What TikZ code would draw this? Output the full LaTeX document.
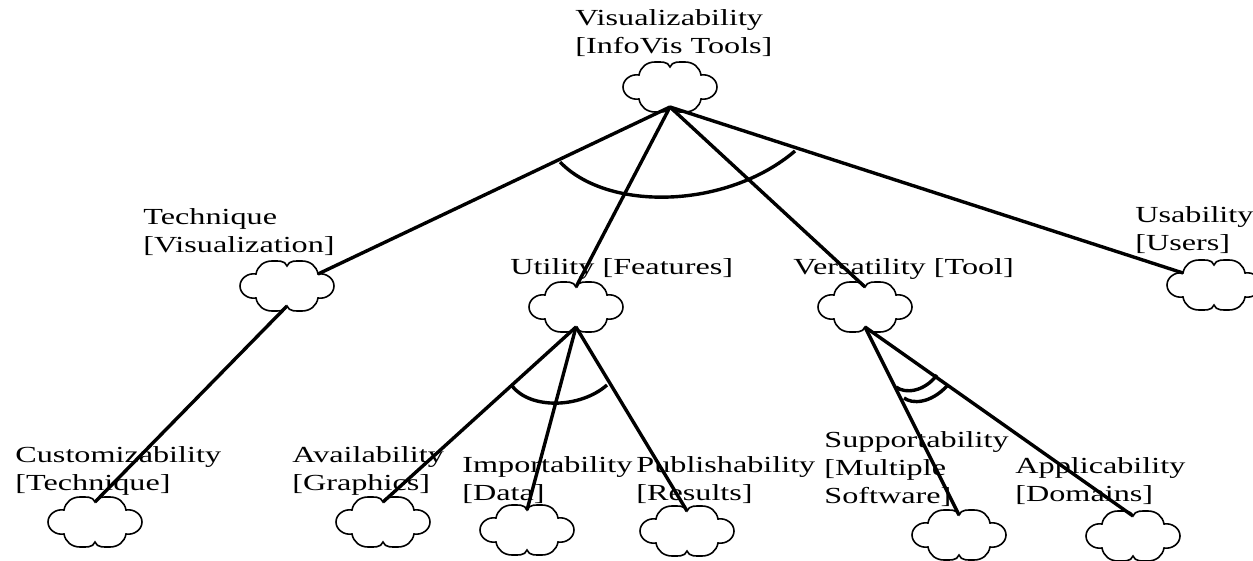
\documentclass[tikz,border=0pt]{standalone}
\usepackage{fontspec}
\setmainfont{Liberation Serif}[FakeStretch=1.40]
\usetikzlibrary{calc}

\tikzset{
  softgoal/.pic={
    \begin{scope}[x=0.5pt, y=0.5pt]
      \draw[goal line] (0,20) to[out=70,in=180] (15,25) to[out=0,in=100] (31,12)
        to[out=10,in=90] (47,0) to[out=-90,in=-10] (31,-12)
        to[out=-100,in=0] (15,-25) to[out=180,in=-70] (0,-20)
        to[out=-110,in=0] (-15,-25) to[out=180,in=-80] (-31,-12)
        to[out=-170,in=-90] (-47,0) to[out=90,in=170] (-31,12)
        to[out=80,in=180] (-15,25) to[out=0,in=110] (0,20) -- cycle;
      \coordinate (-top) at (0,20);
      \coordinate (-bot) at (0,-20);
      \coordinate (-ne) at (31,12);
      \coordinate (-nw) at (-31,12);
    \end{scope}
  }
}

\begin{document}
\begin{tikzpicture}[x=0.5pt, y=-0.5pt,
    goal line/.style={line width=0.8pt},
    link/.style={line width=1.7pt},
    lbl/.style={anchor=base west, inner sep=0pt, align=left,
      font=\fontsize{11.5}{14}\selectfont}]

    \useasboundingbox (0,0) rectangle (1253,561);

    % softgoals
    \pic (vis)   at (670,87)  {softgoal};
    \pic (tech)  at (287,286) {softgoal};
    \pic (util)  at (576,307) {softgoal};
    \pic (vers)  at (865,307) {softgoal};
    \pic (usab)  at (1214,285) {softgoal};
    \pic (cust)  at (95,522)  {softgoal};
    \pic (avail) at (383,522) {softgoal};
    \pic (impo)  at (527,530) {softgoal};
    \pic (publ)  at (687,531) {softgoal};
    \pic (supp)  at (959,535) {softgoal};
    \pic (appl)  at (1133,536) {softgoal};

    % labels (base = last line)
    \node[lbl] (vislbl)   at (575,54)  {Visualizability\\{[InfoVis Tools]}};
    \node[lbl] (techlbl)  at (143,253) {Technique\\{[Visualization]}};
    \node[lbl] (utillbl)  at (510,275) {Utility [Features]};
    \node[lbl] (verslbl)  at (793,275) {Versatility [Tool]};
    \node[lbl] (usablbl)  at (1135,251) {Usability\\{[Users]}};
    \node[lbl] (custlbl)  at (15,490)  {Customizability\\{[Technique]}};
    \node[lbl] (availlbl) at (292,490) {Availability\\{[Graphics]}};
    \node[lbl] (impolbl)  at (462,500) {Importability\\{[Data]}};
    \node[lbl] (publlbl)  at (636,500) {Publishability\\{[Results]}};
    \node[lbl] (supplbl)  at (824,503) {Supportability\\{[Multiple}\\Software]};
    \node[lbl] (appllbl)  at (1015,501) {Applicability\\{[Domains]}};

    % decompositions
    \draw[link] (vis-bot) -- (tech-ne);
    \draw[link] (vis-bot) -- (util-top);
    \draw[link] (vis-bot) -- (vers-top);
    \draw[link] (vis-bot) -- (usab-nw);

    \draw[link] (tech-bot) -- (cust-top);

    \draw[link] (util-bot) -- (avail-top);
    \draw[link] (util-bot) -- (impo-top);
    \draw[link] (util-bot) -- (publ-top);

    \draw[link] (vers-bot) -- (supp-top);
    \draw[link] (vers-bot) -- (appl-top);

    % and / or arcs
    \draw[link] (560,162) .. controls (608,212) and (727,209) .. (795,151);
    \draw[link] (512,386) .. controls (531,410) and (581,408) .. (607,385);
    \draw[link] (896,387) .. controls (905,394) and (924,392) .. (937,375);
    \draw[link] (904,398) .. controls (912,404) and (930,404) .. (947,386);

\end{tikzpicture}
\end{document}
